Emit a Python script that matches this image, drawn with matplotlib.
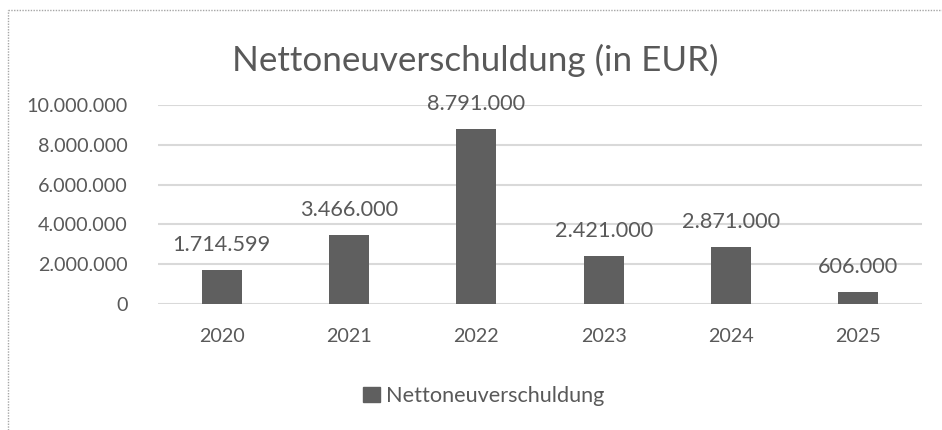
import matplotlib
matplotlib.use("Agg")
import matplotlib.pyplot as plt
from matplotlib.lines import Line2D
from matplotlib.ticker import FuncFormatter

# Daten
jahre = ["2020", "2021", "2022", "2023", "2024", "2025"]
werte = [1714599, 3466000, 8791000, 2421000, 2871000, 606000]
y_ticks = [0, 2000000, 4000000, 6000000, 8000000, 10000000]

TEXT = "#595959"
BAR = "#5f5f5f"
GRID = "#d9d9d9"

plt.rcParams["font.family"] = ["Lato", "DejaVu Sans"]


def de_format(v, pos=None):
    return f"{int(round(v)):,}".replace(",", ".")


fig = plt.figure(figsize=(9.42, 4.3), dpi=100)
ax = fig.add_axes([158 / 942, 126 / 430, 764 / 942, 199 / 430])

x = range(len(jahre))
ax.bar(x, werte, width=0.315, color=BAR, zorder=3)

ax.set_xlim(-0.5, len(jahre) - 0.5)
ax.set_ylim(0, 10000000)
ax.set_yticks(y_ticks)
ax.yaxis.set_major_formatter(FuncFormatter(de_format))
ax.set_xticks(list(x))
ax.set_xticklabels(jahre)

ax.grid(axis="y", color=GRID, linewidth=1.5, zorder=0)
for s in ax.spines.values():
    s.set_visible(False)
ax.tick_params(axis="both", length=0, colors=TEXT, labelsize=14.2)
ax.tick_params(axis="y", pad=22)
ax.tick_params(axis="x", pad=17)

# Datenbeschriftungen
for xi, v in zip(x, werte):
    ax.annotate(de_format(v), (xi, v), xytext=(0, 18), textcoords="offset points",
                ha="center", va="center", fontsize=15.6, color=TEXT, zorder=4)

fig.text(475 / 942, 1 - 60 / 430, "Nettoneuverschuldung (in EUR)",
         ha="center", va="center", fontsize=25.2, color=TEXT)

# Legende
leg = fig.legend([plt.Rectangle((0, 0), 1, 1, color=BAR)], ["Nettoneuverschuldung"],
                 loc="center", bbox_to_anchor=(484 / 942, 1 - 396 / 430),
                 frameon=False, fontsize=15.6, handlelength=0.75, handleheight=0.75,
                 handletextpad=0.3, labelcolor=TEXT)

# gepunkteter Rahmen oben/links
fig.add_artist(Line2D([8 / 942, 1], [1 - 10 / 430, 1 - 10 / 430], transform=fig.transFigure,
                      color="#a6a6a6", linewidth=1, linestyle=(0, (1, 1))))
fig.add_artist(Line2D([8 / 942, 8 / 942], [0, 1 - 10 / 430], transform=fig.transFigure,
                      color="#a6a6a6", linewidth=1, linestyle=(0, (1, 1))))

fig.savefig("out.png", dpi=100)
